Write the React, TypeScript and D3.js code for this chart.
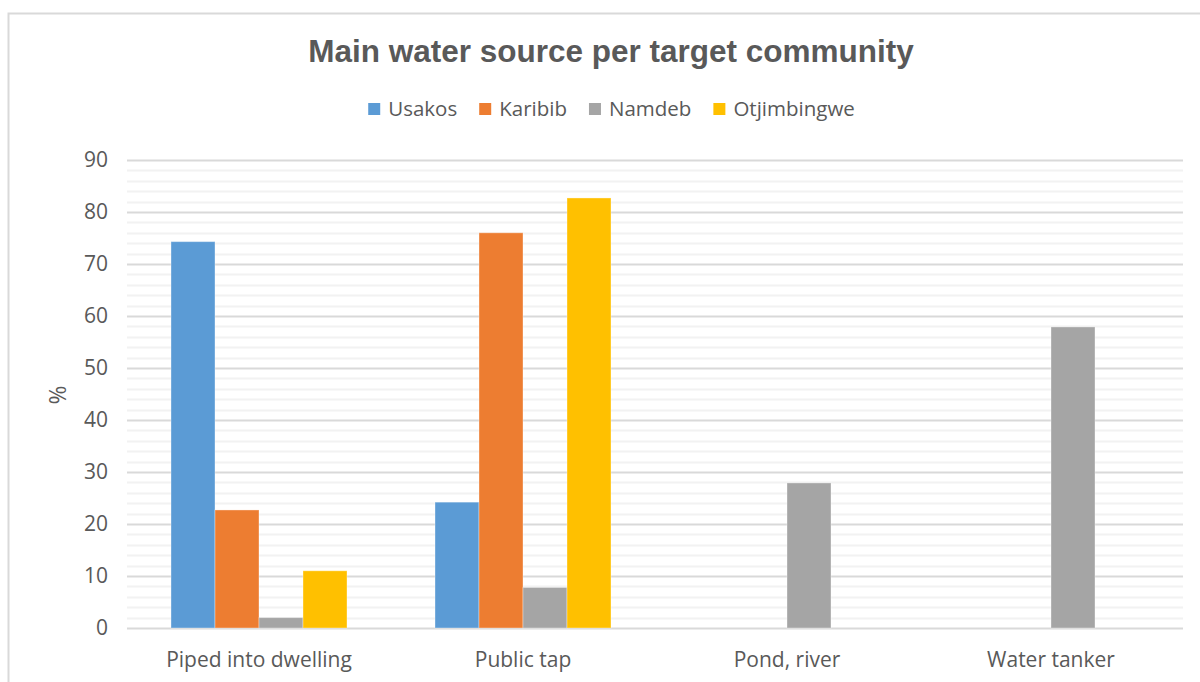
import React, { useEffect, useRef } from "react";
import * as d3 from "d3";

const categories = ["Piped into dwelling", "Public tap", "Pond, river", "Water tanker"];
const seriesNames = ["Usakos", "Karibib", "Namdeb", "Otjimbingwe"];
const seriesColors = ["#5b9bd5", "#ed7d31", "#a5a5a5", "#ffc000"];
const usakos = [74.3, 24.2, 0, 0];
const karibib = [22.7, 76.0, 0, 0];
const namdeb = [2.0, 7.8, 27.9, 57.9];
const otjimbingwe = [11.0, 82.7, 0, 0];
const yTicks = [0, 10, 20, 30, 40, 50, 60, 70, 80, 90];

const W = 1200;
const H = 682;
const FONT = "'Open Sans', 'Noto Sans', sans-serif";
const TXT = "#595959";

export default function App() {
  const ref = useRef<SVGSVGElement>(null);

  useEffect(() => {
    const svg = d3.select(ref.current);
    svg.selectAll("*").remove();

    const left = 127, right = 1183, top = 160, bottom = 628;
    const values = [usakos, karibib, namdeb, otjimbingwe];

    // frame
    svg.append("rect").attr("x", 8.5).attr("y", 13.5).attr("width", 1250).attr("height", 720)
      .attr("fill", "#fff").attr("stroke", "#d9d9d9").attr("stroke-width", 2);

    const y = d3.scaleLinear().domain([0, 90]).range([bottom, top]);
    const x0 = d3.scaleBand().domain(categories).range([left, right]).paddingInner(0).paddingOuter(0);
    const catW = x0.bandwidth();
    const barW = catW / 6;
    const x1 = d3.scaleBand().domain(seriesNames).range([barW, catW - barW]);

    // minor gridlines
    const minor = d3.range(0, 91, 2).filter(v => v % 10 !== 0);
    svg.append("g").selectAll("line").data(minor).join("line")
      .attr("x1", left).attr("x2", right)
      .attr("y1", d => Math.round(y(d)) + 0.5).attr("y2", d => Math.round(y(d)) + 0.5)
      .attr("stroke", "#f2f2f2").attr("stroke-width", 2);
    svg.append("g").selectAll("line").data(yTicks).join("line")
      .attr("x1", left).attr("x2", right)
      .attr("y1", d => Math.round(y(d)) + 0.5).attr("y2", d => Math.round(y(d)) + 0.5)
      .attr("stroke", "#d9d9d9").attr("stroke-width", 2);

    // bars
    categories.forEach((c, ci) => {
      const g = svg.append("g").attr("transform", `translate(${x0(c)},0)`);
      seriesNames.forEach((s, si) => {
        const v = values[si][ci];
        if (v <= 0) return;
        g.append("rect")
          .attr("x", x1(s)!).attr("width", x1.bandwidth())
          .attr("y", y(v)).attr("height", y(0) - y(v))
          .attr("fill", seriesColors[si])
          .attr("stroke", "rgba(255,255,255,0.35)").attr("stroke-width", 1);
      });
    });

    // y tick labels
    svg.append("g").selectAll("text").data(yTicks).join("text")
      .attr("x", 108).attr("y", d => y(d)).attr("dy", "0.35em")
      .attr("text-anchor", "end").attr("font-family", FONT).attr("font-size", 21)
      .attr("fill", TXT).text(d => String(d));

    // y axis title
    svg.append("text").attr("transform", `translate(66,395) rotate(-90)`)
      .attr("text-anchor", "middle").attr("font-family", FONT).attr("font-size", 23)
      .attr("fill", TXT).text("%");

    // category labels
    svg.append("g").selectAll("text").data(categories).join("text")
      .attr("x", d => x0(d)! + catW / 2).attr("y", 667)
      .attr("text-anchor", "middle").attr("font-family", FONT).attr("font-size", 21)
      .attr("fill", TXT).text(d => d);

    // title
    svg.append("text").attr("x", 611).attr("y", 62).attr("text-anchor", "middle")
      .attr("font-family", "'Liberation Sans', Arial, sans-serif").attr("font-weight", "bold")
      .attr("font-size", 31.5).attr("fill", TXT).text("Main water source per target community");

    // legend
    const lg = svg.append("g");
    const items = seriesNames.map((s, i) => {
      const gi = lg.append("g");
      gi.append("rect").attr("x", 0).attr("y", -6).attr("width", 12).attr("height", 12).attr("fill", seriesColors[i]);
      const t = gi.append("text").attr("x", 20).attr("y", 0).attr("dy", "0.35em")
        .attr("font-family", FONT).attr("font-size", 20.5).attr("fill", TXT).text(s);
      const w = (t.node() as SVGTextElement).getComputedTextLength();
      return { gi, w: 20 + w };
    });
    const gap = 22;
    const total = items.reduce((a, b) => a + b.w, 0) + gap * (items.length - 1);
    let cx = 611.5 - total / 2;
    items.forEach(it => {
      it.gi.attr("transform", `translate(${cx},109)`);
      cx += it.w + gap;
    });
  }, []);

  return (
    <svg ref={ref} width={W} height={H}
      style={{ position: "absolute", left: 0, top: 0, display: "block", background: "#fff" }} />
  );
}
